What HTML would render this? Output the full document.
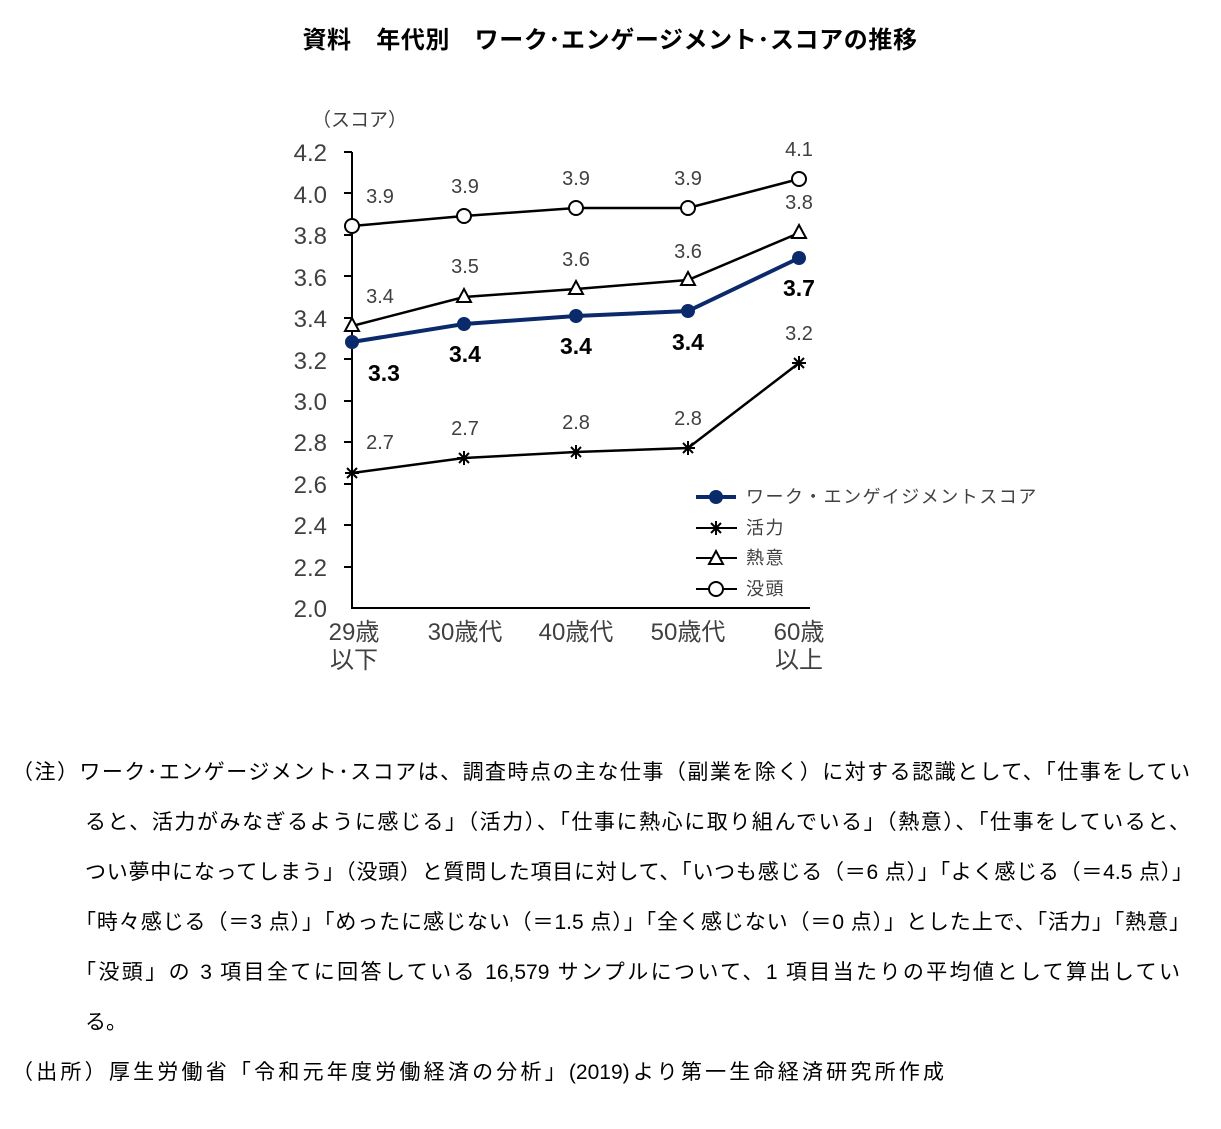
<!DOCTYPE html>
<html><head><meta charset="utf-8"><style>
body{margin:0;background:#fff;width:1221px;height:1129px;overflow:hidden;font-family:"Liberation Sans","Noto Sans CJK JP",sans-serif}
.n{position:absolute;font-size:21px;color:#000;white-space:nowrap;text-align:justify;text-align-last:justify;text-justify:inter-character}
.l{text-align:left;text-align-last:left}
</style></head><body>
<svg width="1221" height="720" style="position:absolute;left:0;top:0" font-family="Liberation Sans, Noto Sans CJK JP, sans-serif">
<text x="610" y="48" font-size="24" text-anchor="middle" font-weight="bold" letter-spacing="0.6">資料　年代別　ワーク･エンゲージメント･スコアの推移</text>
<text x="312" y="126" font-size="19" fill="#404040">（スコア）</text>
<g font-size="24" fill="#404040" text-anchor="end">
<text x="327" y="161">4.2</text><text x="327" y="203">4.0</text><text x="327" y="244">3.8</text><text x="327" y="286">3.6</text><text x="327" y="327">3.4</text><text x="327" y="369">3.2</text><text x="327" y="410">3.0</text><text x="327" y="451">2.8</text><text x="327" y="493">2.6</text><text x="327" y="534">2.4</text><text x="327" y="576">2.2</text><text x="327" y="617">2.0</text>
</g>
<g stroke="#000" stroke-width="2">
<line x1="352" y1="152" x2="352" y2="608"/><line x1="351" y1="608" x2="810" y2="608"/>
<path d="M344 152H352M344 193H352M344 235H352M344 276H352M344 318H352M344 359H352M344 401H352M344 442H352M344 484H352M344 525H352M344 567H352"/>
</g>
<g font-size="24" fill="#404040" text-anchor="middle">
<text x="354" y="640">29歳</text><text x="354" y="668">以下</text>
<text x="465" y="640">30歳代</text><text x="576" y="640">40歳代</text><text x="688" y="640">50歳代</text>
<text x="799" y="640">60歳</text><text x="799" y="668">以上</text>
</g>
<g fill="none" stroke="#000" stroke-width="2.5">
<polyline points="352,226 464,216 576,208 688,208 799,179"/>
<polyline points="352,326 464,297 576,289 688,280 799,233"/>
<polyline points="352,473 464,458 576,452 688,448 799,363"/>
</g>
<polyline fill="none" stroke="#0b2a6b" stroke-width="4" points="352,342 464,324 576,316 688,311 799,258"/>
<g fill="#fff" stroke="#000" stroke-width="2">
<circle cx="352" cy="226" r="7"/><circle cx="464" cy="216" r="7"/><circle cx="576" cy="208" r="7"/><circle cx="688" cy="208" r="7"/><circle cx="799" cy="179" r="7"/>
<path d="M352 318l7 13h-14zM464 289l7 13h-14zM576 281l7 13h-14zM688 272l7 13h-14zM799 225l7 13h-14z"/>
</g>
<g stroke="#000" stroke-width="2">
<path d="M345 473h14M352 466v14M347 468l10 10M357 468l-10 10"/>
<path d="M457 458h14M464 451v14M459 453l10 10M469 453l-10 10"/>
<path d="M569 452h14M576 445v14M571 447l10 10M581 447l-10 10"/>
<path d="M681 448h14M688 441v14M683 443l10 10M693 443l-10 10"/>
<path d="M792 363h14M799 356v14M794 358l10 10M804 358l-10 10"/>
</g>
<g fill="#0b2a6b"><circle cx="352" cy="342" r="7"/><circle cx="464" cy="324" r="7"/><circle cx="576" cy="316" r="7"/><circle cx="688" cy="311" r="7"/><circle cx="799" cy="258" r="7"/></g>
<g font-size="20" fill="#404040" text-anchor="middle">
<text x="380" y="203">3.9</text><text x="465" y="193">3.9</text><text x="576" y="185">3.9</text><text x="688" y="185">3.9</text><text x="799" y="156">4.1</text>
<text x="380" y="303">3.4</text><text x="465" y="273">3.5</text><text x="576" y="266">3.6</text><text x="688" y="258">3.6</text><text x="799" y="209">3.8</text>
<text x="380" y="449">2.7</text><text x="465" y="435">2.7</text><text x="576" y="429">2.8</text><text x="688" y="425">2.8</text><text x="799" y="340">3.2</text>
</g>
<g font-size="23" font-weight="bold" fill="#000" text-anchor="middle">
<text x="384" y="381">3.3</text><text x="465" y="362">3.4</text><text x="576" y="354">3.4</text><text x="688" y="350">3.4</text><text x="799" y="296">3.7</text>
</g>
<line x1="696" y1="497" x2="736" y2="497" stroke="#0b2a6b" stroke-width="4"/><circle cx="716" cy="497" r="7" fill="#0b2a6b"/>
<g stroke="#000" stroke-width="2">
<line x1="696" y1="528" x2="737" y2="528"/><path d="M709 528h14M716 521v14M711 523l10 10M721 523l-10 10"/>
<line x1="696" y1="558" x2="737" y2="558"/><line x1="696" y1="589" x2="737" y2="589"/>
</g>
<path d="M716 551l7 13h-14z" fill="#fff" stroke="#000" stroke-width="2"/>
<circle cx="716" cy="589" r="7" fill="#fff" stroke="#000" stroke-width="2"/>
<g font-size="18" fill="#404040" letter-spacing="1.5">
<text x="746" y="503">ワーク・エンゲイジメントスコア</text><text x="746" y="534">活力</text><text x="746" y="564">熱意</text><text x="746" y="595">没頭</text>
</g>
</svg>
<div class="n" style="left:12px;top:756px;width:1178px">（注）ワーク･エンゲージメント･スコアは、調査時点の主な仕事（副業を除く）に対する認識として、「仕事をしてい</div>
<div class="n" style="left:85px;top:806px;width:1105px">ると、活力がみなぎるように感じる」（活力）、「仕事に熱心に取り組んでいる」（熱意）、「仕事をしていると、</div>
<div class="n" style="left:85px;top:856px;width:1108px">つい夢中になってしまう」（没頭）と質問した項目に対して、「いつも感じる（＝6 点）」「よく感じる（＝4.5 点）」</div>
<div class="n" style="left:75px;top:906px;width:1115px">「時々感じる（＝3 点）」「めったに感じない（＝1.5 点）」「全く感じない（＝0 点）」とした上で、「活力」「熱意」</div>
<div class="n" style="left:75px;top:956px;width:1105px">「没頭」の 3 項目全てに回答している 16,579 サンプルについて、1 項目当たりの平均値として算出してい</div>
<div class="n l" style="left:85px;top:1006px">る。</div>
<div class="n" style="left:12px;top:1056px;width:932px">（出所）厚生労働省「令和元年度労働経済の分析」(2019)より第一生命経済研究所作成</div>
</body></html>
